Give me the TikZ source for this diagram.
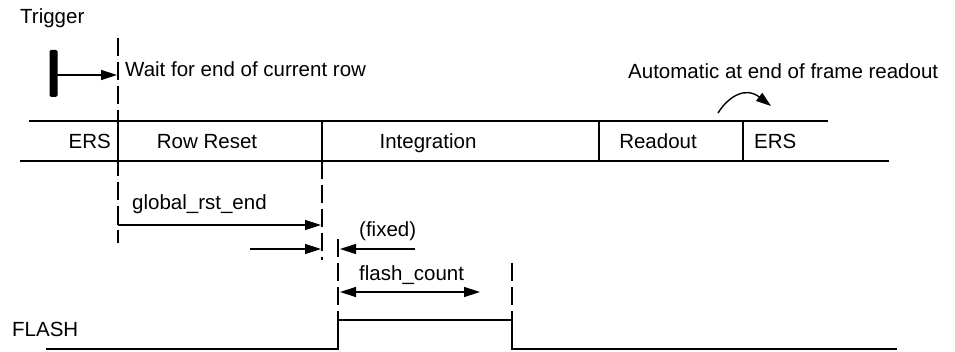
\documentclass[tikz,border=0pt]{standalone}
\usepackage{fontspec}
\setmainfont{Liberation Sans}
\usetikzlibrary{arrows.meta}
\tikzset{
  lbl/.style={inner sep=0pt, font=\fontsize{20.5}{24}\selectfont},
  band/.style={line width=1.8pt},
  guide/.style={line width=1.5pt, dash pattern=on 18pt off 6pt},
  tip/.style={Triangle[length=16pt,width=10pt]},
  dim/.style={line width=1.4pt, -{Triangle[length=16pt,width=10pt]}},
  dimboth/.style={line width=1.4pt, {Triangle[length=16pt,width=10pt]}-{Triangle[length=16pt,width=10pt]}},
}
\begin{document}
\begin{tikzpicture}[x=1pt,y=-1pt]
\useasboundingbox (0,0) rectangle (955,352);
% texts
\node[lbl, anchor=base west] (trig) at (20,24) {Trigger};
\node[lbl, anchor=base west] (wait) at (125,77) {Wait for end of current row};
\node[lbl, anchor=base west] (auto) at (628,79) {Automatic at end of frame readout};
\node[lbl, anchor=base east] (ers1) at (111,149) {ERS};
\node[lbl, anchor=base] (rr) at (207,149) {Row Reset};
\node[lbl, anchor=base] (integ) at (428,149) {Integration};
\node[lbl, anchor=base] (rd) at (658,149) {Readout};
\node[lbl, anchor=base west] (ers2) at (754,149) {ERS};
\node[lbl, anchor=base west] (gre) at (132,210) {global\_rst\_end};
\node[lbl, anchor=base west] (fixed) at (359,237) {(fixed)};
\node[lbl, anchor=base west] (fc) at (359,281) {flash\_count};
\node[lbl, anchor=base west] (flash) at (12,337) {FLASH};
% coordinates
\coordinate (tl) at (29,121); \coordinate (tr) at (828,121);
\coordinate (bl) at (20,161); \coordinate (br) at (889,161);
\coordinate (v1t) at (118,121); \coordinate (v1b) at (118,161);
\coordinate (v2t) at (322,121); \coordinate (v2b) at (322,161);
\coordinate (v3t) at (599,121); \coordinate (v3b) at (599,161);
\coordinate (v4t) at (743,121); \coordinate (v4b) at (743,161);
\coordinate (g1a) at (118,38); \coordinate (g1b) at (118,243);
\coordinate (g2a) at (322,161); \coordinate (g2b) at (322,260);
\coordinate (g3a) at (338,239); \coordinate (g3b) at (338,320);
\coordinate (g4a) at (512,263); \coordinate (g4b) at (512,320);
\coordinate (bart) at (49.5,50); \coordinate (barb) at (57.5,97);
\coordinate (barm) at (57,75); \coordinate (trigend) at (117,75);
\coordinate (ga) at (118,225); \coordinate (gb) at (321,225);
\coordinate (fa) at (250,249); \coordinate (fb) at (321,249);
\coordinate (xa) at (415,249); \coordinate (xb) at (340,249);
\coordinate (ca) at (340,292); \coordinate (cb) at (480,292);
\coordinate (aa) at (718,113); \coordinate (ab) at (771,106);
\coordinate (s0) at (46,349); \coordinate (s1) at (338,349);
\coordinate (s2) at (338,320); \coordinate (s3) at (512,320);
\coordinate (s4) at (512,349); \coordinate (s5) at (897,349);
% band
\draw[band] (tl) -- (tr);
\draw[band] (bl) -- (br);
\draw[band] (v1t) -- (v1b);
\draw[band] (v2t) -- (v2b);
\draw[band] (v3t) -- (v3b);
\draw[band] (v4t) -- (v4b);
% guides
\draw[guide] (g1a) -- (g1b);
\draw[guide] (g2a) -- (g2b);
\draw[guide] (g3a) -- (g3b);
\draw[guide] (g4a) -- (g4b);
% trigger
\fill[rounded corners=1.5pt] (bart) rectangle (barb);
\draw[dim] (barm) -- (trigend);
% dimension arrows
\draw[line width=1.4pt] (ga) -- ++(0,-6);
\draw[dim] (ga) -- (gb);
\draw[dim] (fa) -- (fb);
\draw[dim] (xa) -- (xb);
\draw[dimboth] (ca) -- (cb);
\draw[line width=1.4pt, -{Triangle[length=15pt,width=10pt]}] (aa) .. controls (728,97) and (745,86) .. (ab);
% flash signal
\draw[band] (s0) -- (s1) -- (s2) -- (s3) -- (s4) -- (s5);
\end{tikzpicture}
\end{document}
